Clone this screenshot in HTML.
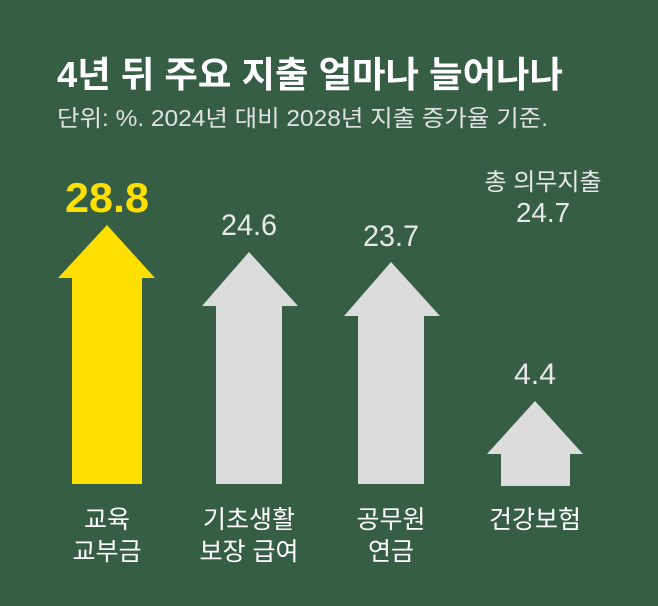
<!DOCTYPE html>
<html><head><meta charset="utf-8"><style>
body{margin:0;width:658px;height:606px;background:#355e45;overflow:hidden;font-family:"Liberation Sans","Noto Sans CJK KR",sans-serif;}
svg{display:block}
</style></head><body>
<svg width="658" height="606" viewBox="0 0 658 606" xmlns="http://www.w3.org/2000/svg">
<rect width="658" height="606" fill="#355e45"/>
<g font-family="Liberation Sans, Noto Sans CJK KR, sans-serif">
<text x="57" y="87" font-size="36" font-weight="bold" fill="#fff" textLength="506" lengthAdjust="spacingAndGlyphs">4년 뒤 주요 지출 얼마나 늘어나나</text>
<text x="57" y="126" font-size="23" fill="#e2e2e2" textLength="491" lengthAdjust="spacingAndGlyphs">단위: %. 2024년 대비 2028년 지출 증가율 기준.</text>
<polygon points="107,225 155,278 142,278 142,484 72,484 72,278 58,278" fill="#fde000"/>
<polygon points="249,252 298,306 282,306 282,484 216,484 216,306 202,306" fill="#dcdcdc"/>
<polygon points="391,262 440,316 424,316 424,484 358,484 358,316 344,316" fill="#dcdcdc"/>
<polygon points="535,401 583,454 570,454 570,486 501,486 501,454 487,454" fill="#dcdcdc"/>
<g text-anchor="middle">
<text x="107" y="212" font-size="42" font-weight="bold" fill="#fde000" textLength="84" lengthAdjust="spacingAndGlyphs">28.8</text>
<text x="249" y="235" font-size="30" fill="#e8e8e8" textLength="56" lengthAdjust="spacingAndGlyphs">24.6</text>
<text x="391" y="246" font-size="30" fill="#e8e8e8" textLength="56" lengthAdjust="spacingAndGlyphs">23.7</text>
<text x="543" y="190" font-size="24" fill="#e8e8e8">총 의무지출</text>
<text x="543" y="222" font-size="28" fill="#e8e8e8" textLength="54" lengthAdjust="spacingAndGlyphs">24.7</text>
<text x="535" y="384" font-size="30" fill="#e8e8e8" textLength="42" lengthAdjust="spacingAndGlyphs">4.4</text>
<g font-size="25" fill="#fff">
<text x="107" y="528">교육</text><text x="107" y="560">교부금</text>
<text x="249" y="528">기초생활</text><text x="249" y="560">보장 급여</text>
<text x="391" y="528">공무원</text><text x="391" y="560">연금</text>
<text x="535" y="528">건강보험</text>
</g></g></g>
</svg>
</body></html>
